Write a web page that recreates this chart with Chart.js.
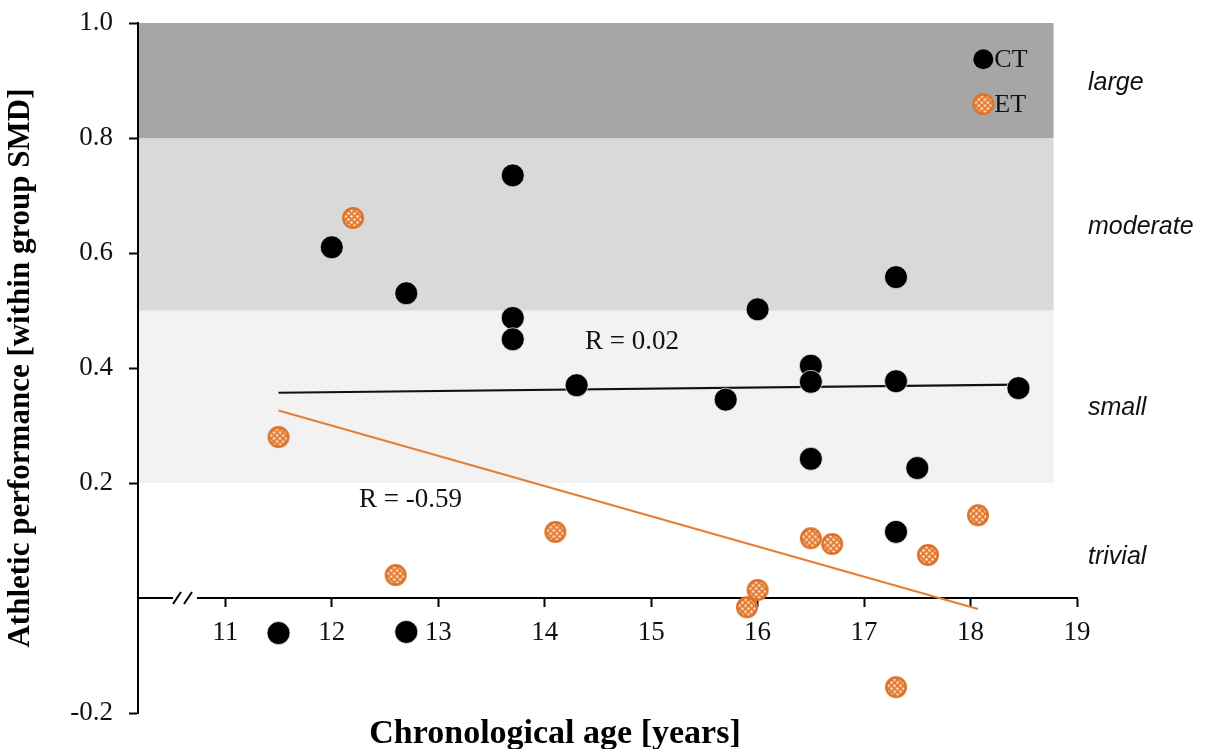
<!DOCTYPE html>
<html><head><meta charset="utf-8">
<script src="https://cdn.jsdelivr.net/npm/chart.js@4.4.1/dist/chart.umd.min.js"></script>
<style>html,body{margin:0;padding:0;background:#fff}#wrap{width:1206px;height:749px;position:relative}</style>
</head><body><div id="wrap"><canvas id="c" width="1206" height="749"></canvas></div>
<script>
// ---- data ----
const ctAge = [12.0, 13.7, 12.7, 13.7, 13.7, 14.3, 15.7, 16.0, 16.5, 16.5, 16.5, 17.3, 17.3, 17.3, 17.5, 18.45, 11.5, 12.7];
const ctSMD = [0.61, 0.735, 0.53, 0.487, 0.45, 0.37, 0.345, 0.502, 0.404, 0.376, 0.242, 0.558, 0.377, 0.115, 0.226, 0.365, -0.061, -0.059];
const etAge = [11.5, 12.2, 12.6, 14.1, 15.9, 16.0, 16.5, 16.7, 17.3, 17.6, 18.07];
const etSMD = [0.28, 0.661, 0.04, 0.115, -0.016, 0.014, 0.104, 0.094, -0.155, 0.075, 0.144];
const ctTrendAge = [11.5, 18.45];
const ctTrendSMD = [0.357, 0.371];
const etTrendAge = [11.5, 18.07];
const etTrendSMD = [0.326, -0.019];
const xTickValues = [11, 12, 13, 14, 15, 16, 17, 18, 19];
const yTickValues = [-0.2, 0, 0.2, 0.4, 0.6, 0.8, 1.0];
const bandLow = [0.2, 0.5, 0.8];
const bandHigh = [0.5, 0.8, 1.0];
const bandEndAge = 18.78;
const effectLabels = ['large', 'moderate', 'small', 'trivial'];
const effectLabelSMD = [0.896, 0.645, 0.330, 0.071];
const seriesNames = ['CT', 'ET'];
const rLabels = ['R = 0.02', 'R = -0.59'];
const rLabelAge = [14.82, 12.74];
const rLabelSMD = [0.445, 0.170];

// ---- styles ----
const ORANGE = '#E57E35';
const bandColors = ['#f2f2f2', '#d9d9d9', '#a6a6a6'];
const SERIF = "'Liberation Serif', 'Times New Roman', serif";
const SANS = "'Liberation Sans', Arial, sans-serif";

function makeET(r) {
  const s = 2 * r + 2;
  const c = document.createElement('canvas');
  c.width = s; c.height = s;
  const g = c.getContext('2d');
  const cx = s / 2;
  g.save();
  g.beginPath(); g.arc(cx, cx, r - 1, 0, Math.PI * 2); g.clip();
  g.fillStyle = ORANGE; g.fillRect(0, 0, s, s);
  g.fillStyle = '#fff';
  const cell = 3;
  for (let i = 0; i * cell < s; i++) for (let j = 0; j * cell < s; j++) {
    if ((i + j) % 2 === 0) g.fillRect(i * cell + 0.5, j * cell + 0.5, cell - 1, cell - 1);
  }
  g.restore();
  g.beginPath(); g.arc(cx, cx, r - 1.2, 0, Math.PI * 2);
  g.lineWidth = 2.4; g.strokeStyle = '#DD7329'; g.stroke();
  return c;
}
const etImg = makeET(11);

const toPts = (xs, ys) => xs.map((v, i) => ({x: v, y: ys[i]}));

const decor = {
  id: 'decor',
  beforeDraw(chart) {
    const {ctx, scales: {x, y}, chartArea} = chart;
    ctx.save();
    for (let i = 0; i < bandLow.length; i++) {
      const x0 = chartArea.left, x1 = x.getPixelForValue(bandEndAge);
      const y0 = y.getPixelForValue(bandHigh[i]), y1 = y.getPixelForValue(bandLow[i]);
      ctx.fillStyle = bandColors[i];
      ctx.fillRect(x0, y0, x1 - x0, y1 - y0);
    }
    ctx.restore();
  },
  afterDraw(chart) {
    const {ctx, scales: {x, y}, chartArea} = chart;
    ctx.save();
    // axis break
    const ay = y.getPixelForValue(0);
    ctx.fillStyle = '#fff';
    ctx.fillRect(173, ay - 3, 24, 6);
    ctx.strokeStyle = '#000'; ctx.lineWidth = 2;
    ctx.beginPath();
    ctx.moveTo(173, ay + 6); ctx.lineTo(181, ay - 6);
    ctx.moveTo(184, ay + 6); ctx.lineTo(192, ay - 6);
    ctx.stroke();
    // effect labels
    ctx.fillStyle = '#111';
    ctx.font = 'italic 25px ' + SANS;
    ctx.textAlign = 'left'; ctx.textBaseline = 'middle';
    effectLabels.forEach((t, i) => ctx.fillText(t, x.getPixelForValue(19) + 11, y.getPixelForValue(effectLabelSMD[i])));
    // R labels
    ctx.font = '27px ' + SERIF;
    ctx.textAlign = 'center';
    rLabels.forEach((t, i) => ctx.fillText(t, x.getPixelForValue(rLabelAge[i]), y.getPixelForValue(rLabelSMD[i])));
    // legend
    const lx = x.getPixelForValue(18.12);
    const ly = [y.getPixelForValue(0.937), y.getPixelForValue(0.859)];
    ctx.fillStyle = '#000';
    ctx.beginPath(); ctx.arc(lx, ly[0], 10, 0, Math.PI * 2); ctx.fill();
    ctx.drawImage(etImg, lx - etImg.width / 2, ly[1] - etImg.height / 2);
    ctx.font = '26px ' + SERIF;
    ctx.textAlign = 'left';
    ctx.fillStyle = '#111';
    seriesNames.forEach((t, i) => ctx.fillText(t, lx + 11, ly[i] + 1));
    // x title
    ctx.font = 'bold 34px ' + SERIF;
    ctx.textAlign = 'center';
    ctx.fillStyle = '#000';
    ctx.fillText('Chronological age [years]', 555, 734);
    ctx.restore();
  }
};

new Chart(document.getElementById('c'), {
  type: 'scatter',
  data: {
    datasets: [
      {label: 'CT trend', type: 'line', data: toPts(ctTrendAge, ctTrendSMD), borderColor: '#111', borderWidth: 2.2, pointRadius: 0, fill: false, order: 3},
      {label: 'ET trend', type: 'line', data: toPts(etTrendAge, etTrendSMD), borderColor: ORANGE, borderWidth: 2, pointRadius: 0, fill: false, order: 3},
      {label: 'CT', data: toPts(ctAge, ctSMD), pointStyle: 'circle', pointRadius: 11.5, backgroundColor: '#000', borderColor: 'rgba(255,255,255,0.7)', borderWidth: 1, order: 1},
      {label: 'ET', data: toPts(etAge, etSMD), pointStyle: etImg, pointRadius: 11, order: 2}
    ]
  },
  options: {
    responsive: false,
    animation: false,
    devicePixelRatio: 1,
    layout: {padding: {left: 2, top: 8, right: 129, bottom: 36}},
    plugins: {legend: {display: false}, tooltip: {enabled: false}},
    scales: {
      x: {
        type: 'linear', min: 10.18, max: 19,
        position: {y: 0},
        afterBuildTicks: s => { s.ticks = xTickValues.map(v => ({value: v})); },
        grid: {drawOnChartArea: false, drawTicks: true, tickLength: 8, tickColor: '#000', tickWidth: 2},
        border: {display: true, color: '#000', width: 2},
        ticks: {color: '#111', font: {family: SERIF, size: 27}, padding: 11, maxRotation: 0, callback: v => String(v)}
      },
      y: {
        type: 'linear', min: -0.2, max: 1.0, position: 'left',
        afterBuildTicks: s => { s.ticks = yTickValues.map(v => ({value: v})); },
        afterFit: s => { s.width = 136; },
        grid: {drawOnChartArea: false, drawTicks: true, tickLength: 9, tickWidth: 2,
               tickColor: c => (c.tick && Math.abs(c.tick.value) < 1e-9) ? 'rgba(0,0,0,0)' : '#000'},
        border: {display: true, color: '#000', width: 2},
        ticks: {color: '#111', font: {family: SERIF, size: 27, lineHeight: 0.52}, padding: 16,
                callback: v => Math.abs(v) < 1e-9 ? '' : v.toFixed(1)},
        title: {display: true, text: 'Athletic performance [within group SMD]', color: '#000',
                font: {family: SERIF, size: 31, weight: 'bold'}, padding: {top: 0, bottom: 0}}
      }
    }
  },
  plugins: [decor]
});
</script>
</body></html>
